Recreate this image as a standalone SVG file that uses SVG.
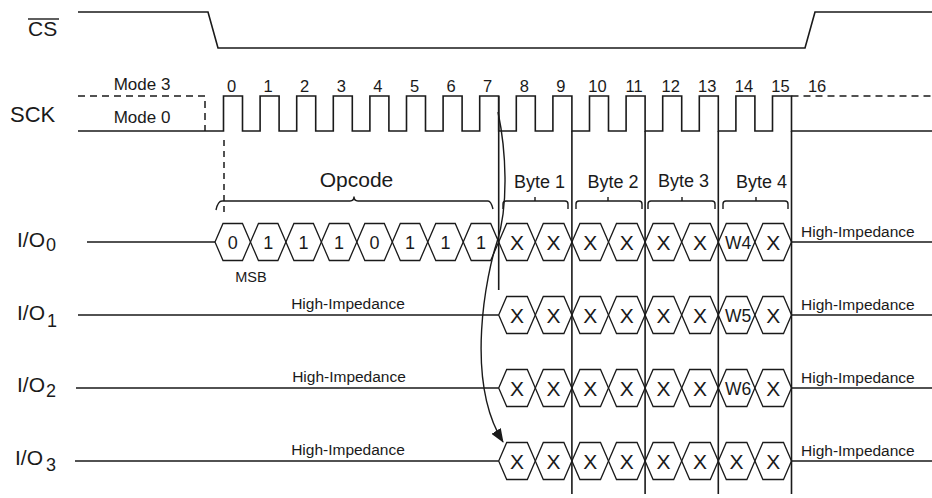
<svg xmlns="http://www.w3.org/2000/svg" width="932" height="498" viewBox="0 0 932 498">
<defs>
<style>
text{font-family:"Liberation Sans",Arial,Helvetica,sans-serif;fill:#1a1a1a}
.w{fill:none;stroke:#1a1a1a;stroke-width:1.6}
.t{fill:none;stroke:#1a1a1a;stroke-width:1.4}
.d{fill:none;stroke:#1a1a1a;stroke-width:1.5;stroke-dasharray:7 5}
.hex{fill:none;stroke:#1a1a1a;stroke-width:1.3}
.lab{font-size:21px}
.sub{font-size:18px}
.num{font-size:16.5px;text-anchor:middle}
.mode{font-size:17px;text-anchor:middle}
.bit{font-size:18px;text-anchor:middle}
.x{font-size:21px;text-anchor:middle}
.hi{font-size:15.5px}
.hic{font-size:15.5px;text-anchor:middle}
.byte{font-size:18px;text-anchor:middle}
</style>
<polygon id="ho" class="hex" points="-17.73,0 -9.73,-18.5 9.73,-18.5 17.73,0 9.73,18.5 -9.73,18.5"/>
<polygon id="hb" class="hex" points="-18.3,0 -10.3,-18.5 10.3,-18.5 18.3,0 10.3,18.5 -10.3,18.5"/>
<marker id="ah" markerWidth="14" markerHeight="11" refX="13" refY="5.5" orient="auto" markerUnits="userSpaceOnUse"><path d="M0,0 L14,5.5 L0,11 z" fill="#1a1a1a"/></marker>
</defs>
<rect width="932" height="498" fill="#fff"/>

<g id="cs">
<text class="lab" x="28" y="36">CS</text>
<line x1="28" y1="19" x2="59" y2="19" stroke="#1a1a1a" stroke-width="1.4"/>
<path class="w" d="M78,12 H208 L218,48 H805 L815,12 H932"/>
</g>

<g id="sck">
<text class="lab" x="10" y="122" style="font-size:22px">SCK</text>
<text class="mode" x="142" y="90">Mode 3</text>
<text class="mode" x="142" y="123">Mode 0</text>
<path class="d" d="M78,96 H205 V131"/>
<path class="d" d="M791.5,96 H932"/>
<path class="w" d="M78,131 H223.5 V96 H242.5 V131 H260.1 V96 H279.1 V131 H296.7 V96 H315.7 V131 H333.3 V96 H352.3 V131 H369.9 V96 H388.9 V131 H406.5 V96 H425.5 V131 H443.1 V96 H462.1 V131 H479.7 V96 H498.7 V131 H516.3 V96 H535.3 V131 H552.9 V96 H571.9 V131 H589.5 V96 H608.5 V131 H626.1 V96 H645.1 V131 H662.7 V96 H681.7 V131 H699.3 V96 H718.3 V131 H735.9 V96 H754.9 V131 H772.5 V96 H791.5 V131 H932"/>
<g class="num">
<text x="231.5" y="92">0</text><text x="268.1" y="92">1</text><text x="304.7" y="92">2</text><text x="341.3" y="92">3</text><text x="377.9" y="92">4</text><text x="414.5" y="92">5</text><text x="451.1" y="92">6</text><text x="487.7" y="92">7</text><text x="524.3" y="92">8</text><text x="560.9" y="92">9</text><text x="597.5" y="92">10</text><text x="634.1" y="92">11</text><text x="670.7" y="92">12</text><text x="707.3" y="92">13</text><text x="743.9" y="92">14</text><text x="780.5" y="92">15</text><text x="817.1" y="92">16</text>
</g>
<line class="d" x1="224" y1="140" x2="224" y2="212" style="stroke-dasharray:6 5"/>
</g>

<g id="grid">
<path class="w" d="M498.7,96 V290 M571.9,131 V494 M645.1,131 V494 M718.3,131 V494 M791.5,131 V494"/>
</g>

<g id="opcode-label">
<text x="356.5" y="187" style="font-size:21px;text-anchor:middle">Opcode</text>
<path class="t" d="M216,210 Q218,201 222,201 H350 Q354,201 354,196.5 Q354,201 358,201 H488 Q491,201 493,209"/>
</g>

<g id="byte-labels">
<text class="byte" x="539.5" y="188">Byte 1</text>
<text class="byte" x="613" y="188">Byte 2</text>
<text class="byte" x="683.5" y="187">Byte 3</text>
<text class="byte" x="761.5" y="188">Byte 4</text>
<path class="t" d="M503,209 V204 Q503,201 506,201 H535 V197 M535,201 H565 Q568,201 568,204 V209"/>
<path class="t" d="M576,209 V204 Q576,201 579,201 H608 V197 M608,201 H639 Q642,201 642,204 V209"/>
<path class="t" d="M648,209 V204 Q648,201 651,201 H682 V197 M682,201 H712 Q715,201 715,204 V209"/>
<path class="t" d="M723,209 V204 Q723,201 726,201 H756 V197 M756,201 H785 Q788,201 788,204 V209"/>
</g>

<g id="io0">
<text class="lab" x="17" y="247">I/O</text><text class="sub" x="46" y="251">0</text>
<path class="w" d="M87,242 H215 M791.5,242 H932"/>
<use href="#ho" x="232.73" y="242"/><use href="#ho" x="268.19" y="242"/><use href="#ho" x="303.65" y="242"/><use href="#ho" x="339.11" y="242"/><use href="#ho" x="374.57" y="242"/><use href="#ho" x="410.03" y="242"/><use href="#ho" x="445.49" y="242"/><use href="#ho" x="480.95" y="242"/>
<g class="bit">
<text x="232.7" y="249">0</text><text x="268.2" y="249">1</text><text x="303.6" y="249">1</text><text x="339.1" y="249">1</text><text x="374.6" y="249">0</text><text x="410" y="249">1</text><text x="445.5" y="249">1</text><text x="481" y="249">1</text>
</g>
<use href="#hb" x="517" y="242"/><use href="#hb" x="553.6" y="242"/><use href="#hb" x="590.2" y="242"/><use href="#hb" x="626.8" y="242"/><use href="#hb" x="663.4" y="242"/><use href="#hb" x="700" y="242"/><use href="#hb" x="736.6" y="242"/><use href="#hb" x="773.2" y="242"/>
<g class="x">
<text x="517" y="249.5">X</text><text x="553.6" y="249.5">X</text><text x="590.2" y="249.5">X</text><text x="626.8" y="249.5">X</text><text x="663.4" y="249.5">X</text><text x="700" y="249.5">X</text><text x="738" y="248.5" style="font-size:17.5px">W4</text><text x="773.2" y="249.5">X</text>
</g>
<text x="251" y="282" style="font-size:14.5px;text-anchor:middle">MSB</text>
<text class="hi" x="801" y="237">High-Impedance</text>
</g>

<g id="io1">
<text class="lab" x="17" y="320">I/O</text><text class="sub" x="47" y="327">1</text>
<path class="w" d="M78,315 H498.7 M791.5,315 H932"/>
<text class="hic" x="348" y="309">High-Impedance</text>
<use href="#hb" x="517" y="315"/><use href="#hb" x="553.6" y="315"/><use href="#hb" x="590.2" y="315"/><use href="#hb" x="626.8" y="315"/><use href="#hb" x="663.4" y="315"/><use href="#hb" x="700" y="315"/><use href="#hb" x="736.6" y="315"/><use href="#hb" x="773.2" y="315"/>
<g class="x">
<text x="517" y="322.5">X</text><text x="553.6" y="322.5">X</text><text x="590.2" y="322.5">X</text><text x="626.8" y="322.5">X</text><text x="663.4" y="322.5">X</text><text x="700" y="322.5">X</text><text x="738" y="321.5" style="font-size:17.5px">W5</text><text x="773.2" y="322.5">X</text>
</g>
<text class="hi" x="801" y="310">High-Impedance</text>
</g>

<g id="io2">
<text class="lab" x="17" y="392">I/O</text><text class="sub" x="46" y="397">2</text>
<path class="w" d="M76,388 H498.7 M791.5,388 H932"/>
<text class="hic" x="349" y="382">High-Impedance</text>
<use href="#hb" x="517" y="388"/><use href="#hb" x="553.6" y="388"/><use href="#hb" x="590.2" y="388"/><use href="#hb" x="626.8" y="388"/><use href="#hb" x="663.4" y="388"/><use href="#hb" x="700" y="388"/><use href="#hb" x="736.6" y="388"/><use href="#hb" x="773.2" y="388"/>
<g class="x">
<text x="517" y="395.5">X</text><text x="553.6" y="395.5">X</text><text x="590.2" y="395.5">X</text><text x="626.8" y="395.5">X</text><text x="663.4" y="395.5">X</text><text x="700" y="395.5">X</text><text x="738" y="394.5" style="font-size:17.5px">W6</text><text x="773.2" y="395.5">X</text>
</g>
<text class="hi" x="801" y="383">High-Impedance</text>
</g>

<g id="io3">
<text class="lab" x="15" y="465">I/O</text><text class="sub" x="46" y="471">3</text>
<path class="w" d="M75,461 H498.7 M791.5,461 H932"/>
<text class="hic" x="348" y="455">High-Impedance</text>
<use href="#hb" x="517" y="461"/><use href="#hb" x="553.6" y="461"/><use href="#hb" x="590.2" y="461"/><use href="#hb" x="626.8" y="461"/><use href="#hb" x="663.4" y="461"/><use href="#hb" x="700" y="461"/><use href="#hb" x="736.6" y="461"/><use href="#hb" x="773.2" y="461"/>
<g class="x">
<text x="517" y="468.5">X</text><text x="553.6" y="468.5">X</text><text x="590.2" y="468.5">X</text><text x="626.8" y="468.5">X</text><text x="663.4" y="468.5">X</text><text x="700" y="468.5">X</text><text x="736.6" y="468.5">X</text><text x="773.2" y="468.5">X</text>
</g>
<text class="hi" x="801" y="456">High-Impedance</text>
</g>

<g id="connectors">
<path class="t" d="M498,112 C506,150 509,205 497,242 C487,272 464,380 503,442" marker-end="url(#ah)"/>
</g>
</svg>
